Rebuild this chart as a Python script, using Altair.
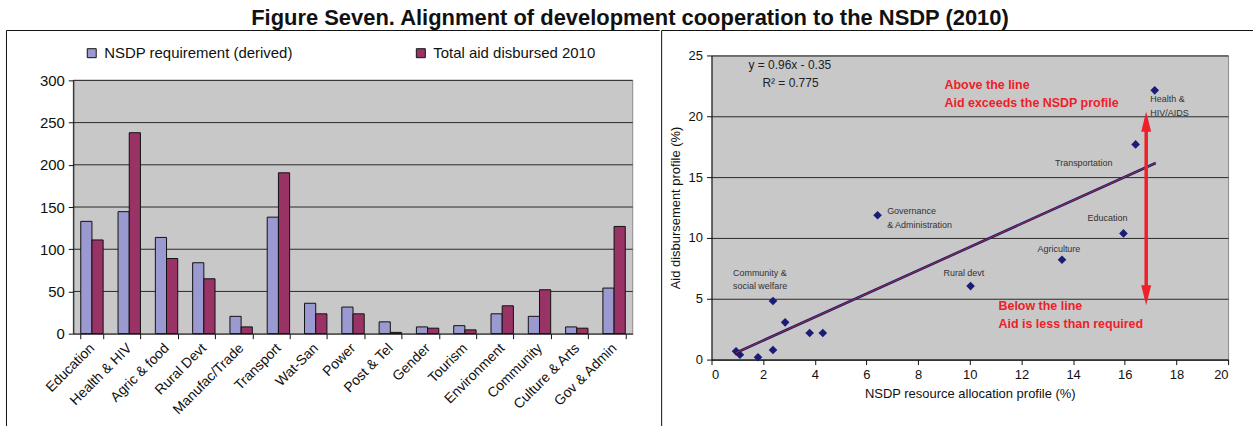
import altair as alt
import pandas as pd

FONT = "Liberation Sans"

# ---- Left panel: sector requirement vs. aid disbursed ----
categories = ["Education", "Health & HIV", "Agric & food", "Rural Devt", "Manufac/Trade",
              "Transport", "Wat-San", "Power", "Post & Tel", "Gender", "Tourism",
              "Environment", "Community", "Culture & Arts", "Gov & Admin"]
nsdp_requirement = [133, 144.5, 114, 84, 20.5, 138, 36, 31.5, 14, 8, 9.5, 23.5, 20.5, 8, 54]
aid_disbursed = [111, 238, 89, 65, 8, 190.5, 23.5, 23.5, 1.5, 6.5, 4.5, 33, 52, 6.5, 127]
series_names = ["NSDP requirement (derived)", "Total aid disbursed 2010"]
series_colors = ["#9A9AD0", "#993366"]
y_ticks_left = [0, 50, 100, 150, 200, 250, 300]
grid_left = [50, 100, 150, 200, 250, 300]

# ---- Right panel: allocation profile vs. disbursement profile ----
profile_x = [0.95, 1.1, 1.8, 2.38, 2.38, 2.85, 3.8, 4.31, 6.43, 10.03, 13.57, 15.95, 16.42, 17.16]
profile_y = [0.68, 0.4, 0.19, 4.82, 0.79, 3.06, 2.19, 2.19, 11.86, 6.04, 8.21, 10.37, 17.69, 22.13]

slope, intercept = 0.96, -0.35
trend_x = [0.95, 17.2]

point_labels = ["Health &", "HIV/AIDS", "Transportation", "Governance", "& Administration",
                "Education", "Agriculture", "Rural devt", "Community &", "social welfare"]
point_label_x = [16.99, 16.99, 13.3, 6.8, 6.8, 14.56, 12.62, 8.98, 0.83, 0.83]
point_label_y = [21.4, 20.29, 16.12, 12.22, 11.08, 11.65, 9.13, 7.1, 7.1, 6.04]

eq_text = ["y = 0.96x - 0.35", "R\u00b2 = 0.775"]
eq_x = [1.43, 1.97]
eq_y = [24.19, 22.7]

note_text = ["Above the line", "Aid exceeds the NSDP profile", "Below the line", "Aid is less than required"]
note_x = [9.02, 9.02, 11.11, 11.11]
note_y = [22.56, 21.07, 4.41, 2.95]

arrow_x = 16.83
arrow_top = 19.8
arrow_bottom = 5.05

RED = "#EE2028"
GRID = "#2a2a2a"
INK = "#111111"
PLOT_BG = "#C8C8C8"
PLOT_EDGE = "#8a8a8a"

one_row = alt.Data(values=[{}])

# ---------- left chart ----------
# The plot group starts 25px above the 300 line so that the legend strip sits inside it;
# the grey plot area is drawn as a rect spanning the 0..300 value range.
LEFT_H = 279
bar_df = pd.DataFrame({
    "category": categories * 2,
    "series": [series_names[0]] * len(categories) + [series_names[1]] * len(categories),
    "value": nsdp_requirement + aid_disbursed,
})
y_left = alt.Scale(domain=[0, 300], range=[LEFT_H, 25], nice=False)

plot_bg = alt.Chart(one_row).mark_rect(fill=PLOT_BG, stroke=PLOT_EDGE, strokeWidth=1).encode(
    x=alt.value(0), x2=alt.value("width"),
    y=alt.datum(0, scale=y_left), y2=alt.datum(300))

grid_df = pd.DataFrame({"v": grid_left})
grid_rules = alt.Chart(grid_df).mark_rule(color=GRID, strokeWidth=1).encode(
    y=alt.Y("v:Q", scale=y_left, title=None),
    x=alt.value(0), x2=alt.value("width"))

bars = alt.Chart(bar_df).mark_bar(stroke=INK, strokeWidth=1).encode(
    x=alt.X("category:N", sort=categories,
            scale=alt.Scale(paddingInner=0.4, paddingOuter=0.2),
            axis=alt.Axis(title=None, labelAngle=-45, labelAlign="right", labelBaseline="middle",
                          labelFont=FONT, labelFontSize=14, labelColor=INK, labelPadding=7,
                          labelOffset=0, tickBand="extent", tickSize=5, tickColor=INK,
                          domainColor=INK, labelLimit=0, zindex=1)),
    xOffset=alt.XOffset("series:N", sort=series_names,
                        scale=alt.Scale(paddingInner=0, paddingOuter=0)),
    y=alt.Y("value:Q", scale=y_left,
            axis=alt.Axis(title=None, values=y_ticks_left, labelFont=FONT, labelFontSize=15,
                          labelColor=INK, tickSize=5, tickColor=INK, domainColor=INK,
                          grid=False, labelPadding=4, zindex=1)),
    color=alt.Color("series:N", sort=series_names,
                    scale=alt.Scale(domain=series_names, range=series_colors),
                    legend=alt.Legend(title=None, orient="none", legendX=11, legendY=-10,
                                      direction="horizontal", columns=2, columnPadding=120,
                                      symbolType="square", symbolSize=81,
                                      symbolStrokeColor=INK, symbolStrokeWidth=1,
                                      labelFont=FONT, labelFontSize=15, labelColor=INK,
                                      labelOffset=5, padding=0, labelLimit=0)),
)

left_frame_top = alt.Chart(one_row).mark_rule(color=INK, strokeWidth=1).encode(
    x=alt.value(-67), x2=alt.value(588), y=alt.value(-25))
left_frame_side = alt.Chart(one_row).mark_rule(color=INK, strokeWidth=1).encode(
    x=alt.value(-67), y=alt.value(-25), y2=alt.value(372))

left = alt.layer(left_frame_top, left_frame_side, plot_bg, grid_rules, bars).properties(
    width=561, height=LEFT_H,
    view=alt.ViewBackground(fill="white", stroke="white", strokeWidth=0))

# ---------- right chart ----------
xs = alt.Scale(domain=[0, 20], nice=False)
ys = alt.Scale(domain=[0, 25], nice=False)

x_axis = alt.Axis(title="NSDP resource allocation profile (%)", values=list(range(0, 21, 2)),
                  labelFont=FONT, labelFontSize=13, labelColor=INK, tickSize=5, tickColor=INK,
                  domainColor=INK, grid=False, titleFont=FONT, titleFontSize=13,
                  titleFontWeight="normal", titleColor=INK, titlePadding=6, labelPadding=4)
y_axis = alt.Axis(title="Aid disbursement profile (%)", values=list(range(0, 26, 5)),
                  labelFont=FONT, labelFontSize=13, labelColor=INK, tickSize=5, tickColor=INK,
                  domainColor=INK, grid=True, gridColor=GRID, gridOpacity=1,
                  titleFont=FONT, titleFontSize=13, titleFontWeight="normal",
                  titleColor=INK, titlePadding=6, labelPadding=4)

pts_df = pd.DataFrame({"x": profile_x, "y": profile_y})
points = alt.Chart(pts_df).mark_point(shape="diamond", filled=True, size=75,
                                      color="#1B1B78", opacity=1).encode(
    x=alt.X("x:Q", scale=xs, axis=x_axis),
    y=alt.Y("y:Q", scale=ys, axis=y_axis),
)

trend_df = pd.DataFrame({"x": trend_x, "y": [slope * v + intercept for v in trend_x]})
trend_dark = alt.Chart(trend_df).mark_line(color="#1B1B6A", strokeWidth=2.6).encode(
    x=alt.X("x:Q", scale=xs), y=alt.Y("y:Q", scale=ys))
trend_red = alt.Chart(trend_df).mark_line(color="#E0303A", strokeWidth=0.7).encode(
    x=alt.X("x:Q", scale=xs), y=alt.Y("y:Q", scale=ys))

lab_df = pd.DataFrame({"t": point_labels, "x": point_label_x, "y": point_label_y})
labels = alt.Chart(lab_df).mark_text(align="left", baseline="middle", font=FONT,
                                     fontSize=9, color="#333333").encode(
    x=alt.X("x:Q", scale=xs), y=alt.Y("y:Q", scale=ys), text="t:N")

eq_df = pd.DataFrame({"t": eq_text, "x": eq_x, "y": eq_y})
eq = alt.Chart(eq_df).mark_text(align="left", baseline="middle", font=FONT,
                                fontSize=12, color="#222222").encode(
    x=alt.X("x:Q", scale=xs), y=alt.Y("y:Q", scale=ys), text="t:N")

note_df = pd.DataFrame({"t": note_text, "x": note_x, "y": note_y})
notes = alt.Chart(note_df).mark_text(align="left", baseline="middle", font=FONT,
                                     fontSize=12.5, fontWeight="bold", color=RED).encode(
    x=alt.X("x:Q", scale=xs), y=alt.Y("y:Q", scale=ys), text="t:N")

arrow_df = pd.DataFrame({"x": [arrow_x], "y": [arrow_bottom], "y2": [arrow_top]})
shaft = alt.Chart(arrow_df).mark_rule(color=RED, strokeWidth=3.5).encode(
    x=alt.X("x:Q", scale=xs), y=alt.Y("y:Q", scale=ys), y2="y2:Q")
head_up = alt.Chart(arrow_df).mark_point(shape="M0,-0.7L0.5,1.3L-0.5,1.3Z", size=400,
                                         filled=True, color=RED, opacity=1).encode(
    x=alt.X("x:Q", scale=xs), y=alt.Y("y2:Q", scale=ys))
head_down = alt.Chart(arrow_df).mark_point(shape="M0,0.7L0.5,-1.3L-0.5,-1.3Z", size=400,
                                           filled=True, color=RED, opacity=1).encode(
    x=alt.X("x:Q", scale=xs), y=alt.Y("y:Q", scale=ys))

right_frame_top = alt.Chart(one_row).mark_rule(color=INK, strokeWidth=1).encode(
    x=alt.value(-50), x2=alt.value(543), y=alt.value(-25))
right_frame_side = alt.Chart(one_row).mark_rule(color=INK, strokeWidth=1).encode(
    x=alt.value(-50), y=alt.value(-25), y2=alt.value(372))

right = alt.layer(right_frame_top, right_frame_side, points, trend_dark, trend_red,
                  labels, eq, notes, shaft, head_up, head_down).properties(width=518, height=305)

chart = alt.hconcat(left, right, spacing=0).properties(
    title=alt.TitleParams("Figure Seven. Alignment of development cooperation to the NSDP (2010)",
                          font=FONT, fontSize=22, fontWeight="bold", color=INK,
                          anchor="middle", offset=0),
    padding={"left": 5.5, "top": 6, "right": 0, "bottom": 0},
    background="white",
).configure_view(fill=PLOT_BG, stroke=PLOT_EDGE, strokeWidth=1)

chart.save("out.html", embed_options={"renderer": "svg", "actions": False})
